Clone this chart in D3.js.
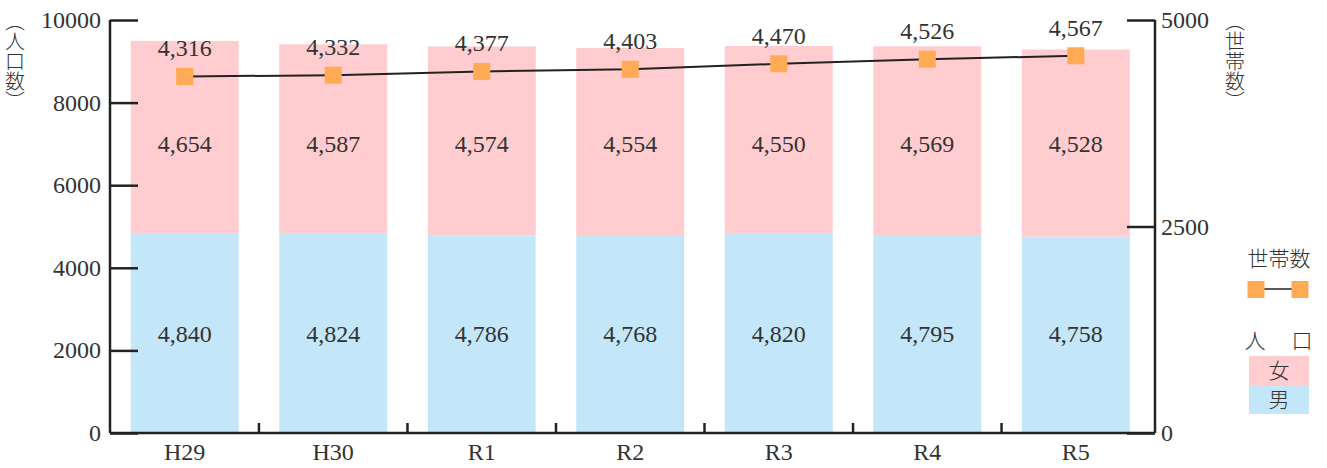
<!DOCTYPE html>
<html>
<head>
<meta charset="utf-8">
<script src="https://cdn.jsdelivr.net/npm/d3@7"></script>
<style>
  body { margin: 0; background: #fff; }
  svg text { fill: #333; }
  svg text.jp { font-family: 'Noto Sans CJK JP', sans-serif; font-size: 21px; font-weight: 300; }
</style>
</head>
<body>
<div id="chart"></div>
<script>
// data
const years = ['H29', 'H30', 'R1', 'R2', 'R3', 'R4', 'R5'];
const male = [4840, 4824, 4786, 4768, 4820, 4795, 4758];
const female = [4654, 4587, 4574, 4554, 4550, 4569, 4528];
const households = [4316, 4332, 4377, 4403, 4470, 4526, 4567];
const leftTicks = [0, 2000, 4000, 6000, 8000, 10000];
const rightTicks = [0, 2500, 5000];

const W = 1327, H = 468;
const pink = '#ffcccf', blue = '#c3e7f9', orange = '#ffab55', ink = '#222';
const serif = 'Liberation Serif';

const svg = d3.select('#chart').append('svg')
    .attr('width', W).attr('height', H);

// scales
const x = d3.scaleBand().domain(years).range([110.5, 1150])
    .paddingInner(0.273).paddingOuter(0.136);
const y = d3.scaleLinear().domain([0, 10000]).range([433, 20]);
const y2 = d3.scaleLinear().domain([0, 5000]).range([433, 20]);

const fmt = d3.format(',');

// number label helper
function num(sel) {
  return sel.attr('font-family', serif)
    .attr('font-size', 24);
}

// stacked bars
const rows = years.map((d, i) => ({year: d, male: male[i], female: female[i]}));
const stack = d3.stack().keys(['male', 'female'])(rows);
const colors = {male: blue, female: pink};

svg.append('g').selectAll('g')
    .data(stack).enter().append('g')
    .attr('fill', s => colors[s.key])
    .selectAll('rect')
    .data(s => s).enter().append('rect')
    .attr('x', d => x(d.data.year))
    .attr('width', x.bandwidth())
    .attr('y', d => y(d[1]))
    .attr('height', d => y(d[0]) - y(d[1]));

// bar labels (placed at fixed level like the original)
svg.append('g').selectAll('text')
    .data(rows).enter().append('text')
    .call(num)
    .attr('text-anchor', 'middle')
    .attr('x', d => x(d.year) + x.bandwidth() / 2)
    .attr('y', y(2400) + 8)
    .text(d => fmt(d.male));

svg.append('g').selectAll('text')
    .data(rows).enter().append('text')
    .call(num)
    .attr('text-anchor', 'middle')
    .attr('x', d => x(d.year) + x.bandwidth() / 2)
    .attr('y', y(7000) + 8)
    .text(d => fmt(d.female));

// household line
const cx = (d, i) => x(years[i]) + x.bandwidth() / 2;
const line = d3.line().x(cx).y(d => y2(d));

svg.append('path')
    .datum(households)
    .attr('d', line)
    .attr('fill', 'none')
    .attr('stroke', ink)
    .attr('stroke-width', 2);

svg.append('g').selectAll('rect')
    .data(households).enter().append('rect')
    .attr('x', (d, i) => cx(d, i) - 8.5)
    .attr('y', d => y2(d) - 8.5)
    .attr('width', 17).attr('height', 17)
    .attr('fill', orange);

svg.append('g').selectAll('text')
    .data(households).enter().append('text')
    .call(num)
    .attr('text-anchor', 'middle')
    .attr('x', cx)
    .attr('y', d => y2(d) - 20)
    .text(d => fmt(d));

// axes
const leftAxis = svg.append('g')
    .attr('transform', 'translate(110,0)')
    .call(d3.axisRight(y).tickValues(leftTicks).tickSize(28).tickFormat(''));
leftAxis.selectAll('line, path').attr('stroke', ink).attr('stroke-width', 2.5);
leftAxis.select('.domain').attr('d', 'M0,20V433');

svg.append('g').selectAll('text')
    .data(leftTicks).enter().append('text')
    .call(num)
    .attr('text-anchor', 'end')
    .attr('x', 101)
    .attr('y', d => y(d) + 8)
    .text(d => d);

const rightAxis = svg.append('g')
    .attr('transform', 'translate(1155,0)')
    .call(d3.axisLeft(y2).tickValues(rightTicks).tickSize(28).tickFormat(''));
rightAxis.selectAll('line, path').attr('stroke', ink).attr('stroke-width', 2.5);
rightAxis.select('.domain').attr('d', 'M0,20V433');

svg.append('g').selectAll('text')
    .data(rightTicks).enter().append('text')
    .call(num)
    .attr('x', 1161)
    .attr('y', d => y2(d) + 8)
    .text(d => d);

// bottom axis with ticks between categories
svg.append('line')
    .attr('x1', 110).attr('x2', 1155)
    .attr('y1', 433).attr('y2', 433)
    .attr('stroke', ink).attr('stroke-width', 2.5);

svg.append('g').selectAll('line')
    .data(years.slice(1)).enter().append('line')
    .attr('x1', d => x(d) - x.step() * x.paddingInner() / 2)
    .attr('x2', d => x(d) - x.step() * x.paddingInner() / 2)
    .attr('y1', 433).attr('y2', 423)
    .attr('stroke', ink).attr('stroke-width', 2.5);

svg.append('g').selectAll('text')
    .data(years).enter().append('text')
    .call(num)
    .attr('text-anchor', 'middle')
    .attr('x', d => x(d) + x.bandwidth() / 2)
    .attr('y', 460)
    .text(d => d);

// axis titles, vertical writing
function vtitle(xpos, str) {
  svg.append('text')
    .attr('class', 'jp')
    .attr('x', xpos).attr('y', 11)
    .style('writing-mode', 'vertical-rl')
    .style('font-size', '20px')
    .text(str);
}
vtitle(15, '（人口数）');
vtitle(1235, '（世帯数）');

// legend
const lg = svg.append('g');
lg.append('text').attr('class', 'jp')
    .attr('x', 1279).attr('y', 266).attr('text-anchor', 'middle')
    .text('世帯数');
lg.append('line')
    .attr('x1', 1256).attr('x2', 1300).attr('y1', 289).attr('y2', 289)
    .attr('stroke', ink).attr('stroke-width', 1.5);
[1256, 1300].forEach(px => {
  lg.append('rect').attr('x', px - 8.5).attr('y', 281)
    .attr('width', 17).attr('height', 17).attr('fill', orange);
});
lg.append('text').attr('class', 'jp')
    .attr('x', 1255).attr('y', 348).attr('text-anchor', 'middle').text('人');
lg.append('text').attr('class', 'jp')
    .attr('x', 1302).attr('y', 348).attr('text-anchor', 'middle').text('口');
lg.append('rect').attr('x', 1249).attr('y', 356).attr('width', 60).attr('height', 29).attr('fill', pink);
lg.append('rect').attr('x', 1249).attr('y', 385).attr('width', 60).attr('height', 29).attr('fill', blue);
lg.append('text').attr('class', 'jp')
    .attr('x', 1279).attr('y', 378).attr('text-anchor', 'middle').text('女');
lg.append('text').attr('class', 'jp')
    .attr('x', 1279).attr('y', 407).attr('text-anchor', 'middle').text('男');
</script>
</body>
</html>
